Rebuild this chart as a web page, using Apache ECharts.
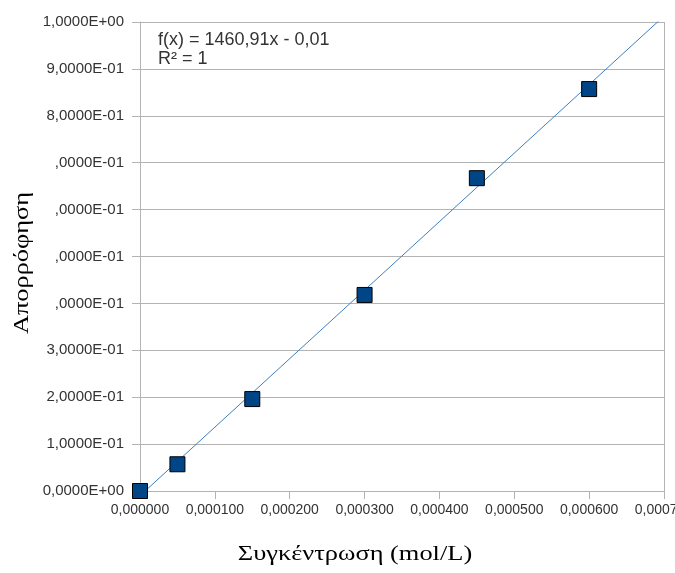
<!DOCTYPE html>
<html>
<head>
<meta charset="utf-8">
<script src="https://cdn.jsdelivr.net/npm/echarts@6/dist/echarts.min.js"></script>
<style>html,body{margin:0;padding:0;background:#fff}#c{width:675px;height:573px}</style>
</head>
<body>
<div id="c"></div>
<script>
const concentration = [0, 0.00005, 0.00015, 0.0003, 0.00045, 0.0006];
const absorbance = [0, 0.057, 0.196, 0.418, 0.667, 0.857];
const slope = 1460.91;
const intercept = -0.01;
const xRange = [0, 0.0007];
const yRange = [0, 1];
const equationText = 'f(x) = 1460,91x - 0,01';
const r2Text = 'R² = 1';
const xTitle = 'Συγκέντρωση (mol/L)';
const yTitle = 'Απορρόφηση';

function fmtX(v) { return v.toFixed(6).replace('.', ','); }
function fmtY(v) {
  let e = 0, m = v;
  if (v !== 0) { e = Math.floor(Math.log10(Math.abs(v)) + 1e-9); m = v / Math.pow(10, e); }
  const es = (e < 0 ? '-' : '+') + String(Math.abs(e)).padStart(2, '0');
  return m.toFixed(4).replace('.', ',') + 'E' + es;
}

const trend = xRange.map(x => [x, slope * x + intercept]);
const points = concentration.map((x, i) => [x, absorbance[i]]);

const chart = echarts.init(document.getElementById('c'), null, {renderer: 'canvas'});
const labelFont = {fontFamily: 'Liberation Sans, Arial, sans-serif', fontSize: 15, color: '#333'};
chart.setOption({
  animation: false,
  grid: {left: 140, right: 11, top: 22, bottom: 82, containLabel: false,
         outerBoundsMode: 'none', show: false},
  xAxis: {
    type: 'value', min: xRange[0], max: xRange[1], interval: 0.0001,
    axisLine: {show: true, lineStyle: {color: '#b3b3b3'}},
    axisTick: {show: true, length: 8, lineStyle: {color: '#b3b3b3'}},
    axisLabel: Object.assign({formatter: fmtX, margin: 12, showMaxLabel: true, hideOverlap: false}, labelFont, {fontSize: 14}),
    splitLine: {show: false}
  },
  yAxis: {
    type: 'value', min: yRange[0], max: yRange[1], interval: 0.1,
    axisLine: {show: true, lineStyle: {color: '#b3b3b3'}},
    axisTick: {show: true, length: 8, lineStyle: {color: '#b3b3b3'}},
    axisLabel: Object.assign({formatter: fmtY, margin: 16}, labelFont),
    splitLine: {show: true, lineStyle: {color: '#b3b3b3'}}
  },
  series: [
    {
      type: 'line', data: trend, symbol: 'none', clip: true,
      lineStyle: {color: '#3f7fbf', width: 1}, z: 2
    },
    {
      type: 'scatter', data: points, symbol: 'rect', symbolSize: 15,
      itemStyle: {color: '#004586', borderColor: '#000', borderWidth: 1, opacity: 1}, z: 3
    }
  ],
  graphic: [
    {type: 'line', z: 1, shape: {x1: 664.5, y1: 22, x2: 664.5, y2: 499}, style: {stroke: '#b3b3b3', lineWidth: 1}},
    {type: 'rect', z: 100, shape: {x: 0, y: 157, width: 56, height: 184}, style: {fill: '#fff'}},
    {type: 'text', z: 101, x: 22, y: 263, rotation: Math.PI / 2, scaleX: 1.2,
     style: {text: yTitle, font: '22px "Liberation Serif", "Times New Roman", serif', fill: '#000',
             textAlign: 'center', textVerticalAlign: 'middle'}},
    {type: 'text', z: 101, x: 355, y: 554, scaleX: 1.2,
     style: {text: xTitle, font: '22px "Liberation Serif", "Times New Roman", serif', fill: '#000',
             textAlign: 'center', textVerticalAlign: 'middle'}},
    {type: 'text', z: 101, x: 158, y: 40,
     style: {text: equationText, font: '18px "Liberation Sans", Arial, sans-serif', fill: '#333',
             textAlign: 'left', textVerticalAlign: 'middle'}},
    {type: 'text', z: 101, x: 158, y: 59,
     style: {text: r2Text, font: '18px "Liberation Sans", Arial, sans-serif', fill: '#333',
             textAlign: 'left', textVerticalAlign: 'middle'}}
  ]
});
</script>
</body>
</html>
